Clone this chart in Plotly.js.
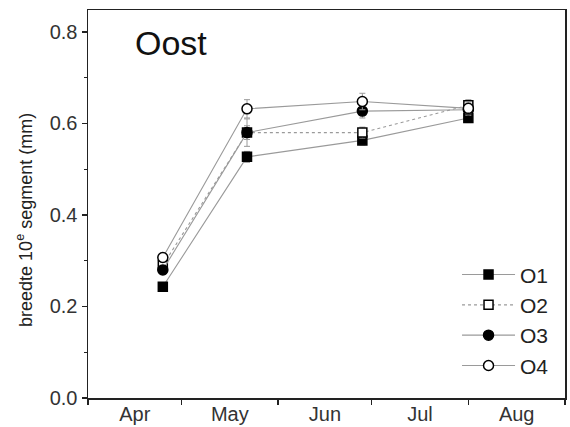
<!DOCTYPE html>
<html>
<head>
<meta charset="utf-8">
<script src="https://cdn.plot.ly/plotly-3.0.1.min.js"></script>
<style>html,body{margin:0;padding:0;background:#fff}#chart{width:570px;height:427px}</style>
</head>
<body>
<div id="chart"></div>
<script>
// Sampling dates
var dates = ['2000-04-25', '2000-05-22', '2000-06-28', '2000-08-01'];
// Series values (mm)
var O1 = [0.243, 0.527, 0.563, 0.612];
var O2 = [0.290, 0.580, 0.580, 0.640];
var O3 = [0.280, 0.580, 0.627, 0.630];
var O4 = [0.307, 0.632, 0.648, 0.633];
// Error bars
var O1err = [0.008, 0.012, 0.010, 0.010];
var O2err = [0.010, 0.015, 0.012, 0.012];
var O3err = [0.010, 0.030, 0.015, 0.012];
var O4err = [0.010, 0.020, 0.018, 0.012];
var names = ['O1', 'O2', 'O3', 'O4'];
var yTitle = 'breedte 10<sup>e</sup> segment (mm)';
var chartTitle = 'Oost';

var lineCol = '#9a9a9a';
function tr(name, y, err, symbol, fill, dash) {
  return {
    x: dates, y: y, name: name, type: 'scatter', mode: 'lines+markers',
    line: {color: lineCol, width: 1.1, dash: dash},
    marker: {symbol: symbol, size: symbol === 'square' ? 9 : 10, color: fill,
             line: {color: '#000', width: 1.5}},
    error_y: {type: 'data', array: err, visible: true, color: lineCol, thickness: 1, width: 3}
  };
}
var data = [
  tr(names[0], O1, O1err, 'square', '#000', 'solid'),
  tr(names[1], O2, O2err, 'square', '#fff', 'dot'),
  tr(names[2], O3, O3err, 'circle', '#000', 'solid'),
  tr(names[3], O4, O4err, 'circle', '#fff', 'solid')
];
var layout = {
  width: 570, height: 427,
  margin: {l: 88, r: 5, t: 10, b: 29},
  paper_bgcolor: '#fff', plot_bgcolor: '#fff',
  font: {family: 'Liberation Sans, Arial, sans-serif', color: '#222'},
  showlegend: true,
  legend: {x: 0.977, xanchor: 'right', y: 0.20, yanchor: 'middle', itemwidth: 53,
           font: {size: 21, color: '#222'}, bgcolor: 'rgba(0,0,0,0)', tracegroupgap: 0},
  xaxis: {
    type: 'date', range: ['2000-04-01', '2000-09-01'],
    dtick: 'M1', tick0: '2000-04-01', tickformat: '%b', ticklabelmode: 'period',
    ticks: 'outside', ticklen: 5, tickwidth: 1.5, tickcolor: '#222',
    showline: true, linecolor: '#222', linewidth: 1.5, mirror: true,
    showgrid: false, zeroline: false, ticklabelstandoff: -8,
    tickfont: {size: 20, color: '#333'}
  },
  yaxis: {
    range: [0, 0.848], tickvals: [0, 0.2, 0.4, 0.6, 0.8],
    ticktext: ['0.0', '0.2', '0.4', '0.6', '0.8'],
    ticks: 'outside', ticklen: 5, tickwidth: 1.5, tickcolor: '#222',
    minor: {tickvals: [0.1, 0.3, 0.5, 0.7], ticks: 'outside', ticklen: 3, tickwidth: 1, tickcolor: '#222'},
    showline: true, linecolor: '#222', linewidth: 1.5, mirror: true,
    showgrid: false, zeroline: false,
    tickfont: {size: 20, color: '#333'}
  },
  annotations: [{
    text: chartTitle, xref: 'paper', yref: 'paper', x: 0.095, y: 0.915,
    xanchor: 'left', yanchor: 'middle', showarrow: false,
    font: {size: 34, color: '#111'}
  }, {
    text: yTitle, xref: 'paper', yref: 'paper', x: -0.132, y: 0.459,
    xanchor: 'center', yanchor: 'middle', showarrow: false, textangle: -90,
    font: {size: 18, color: '#222'}
  }]
};
Plotly.newPlot('chart', data, layout, {displayModeBar: false, staticPlot: true});
</script>
</body>
</html>
